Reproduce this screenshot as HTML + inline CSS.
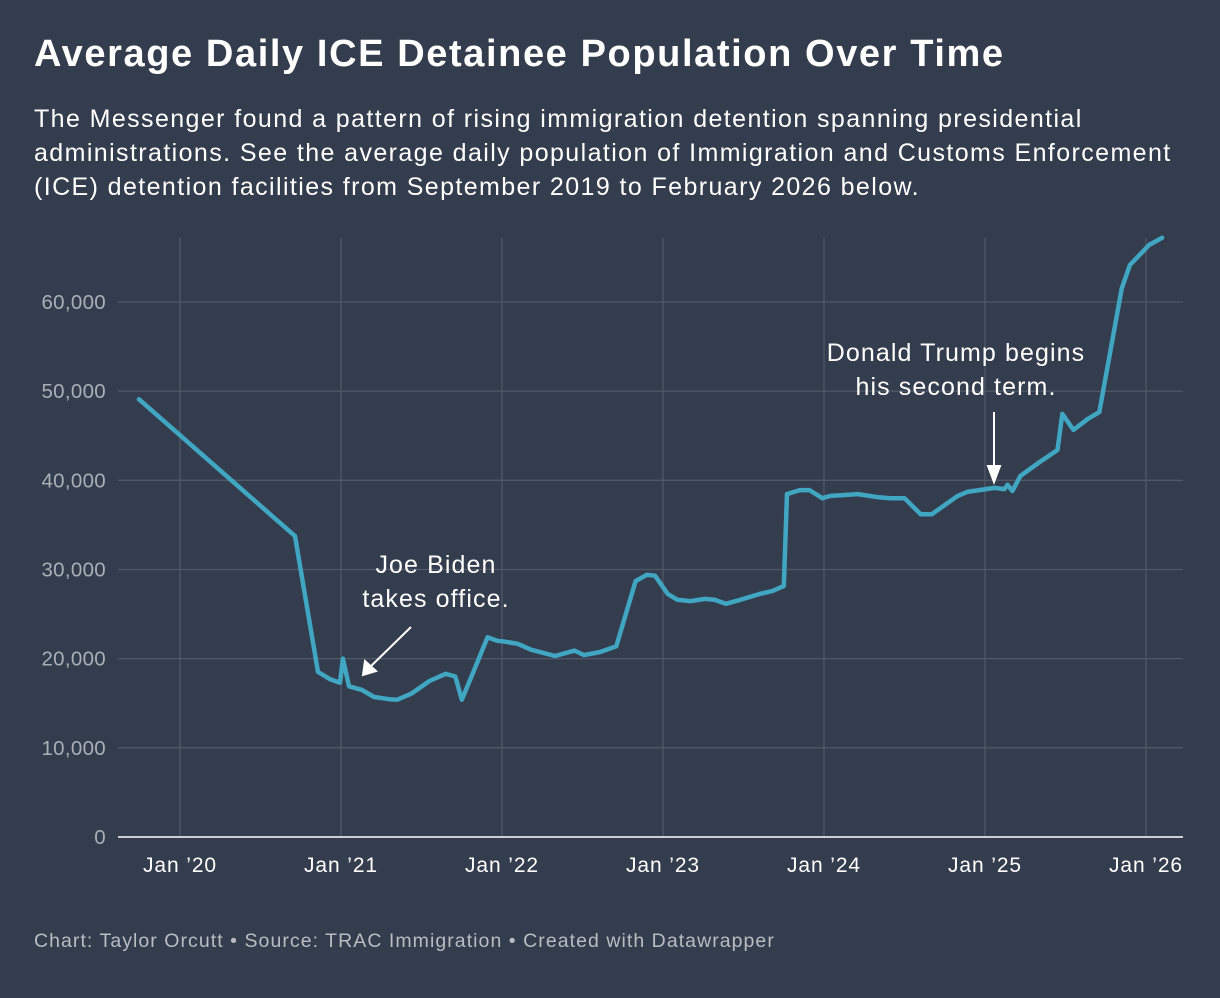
<!DOCTYPE html>
<html><head><meta charset="utf-8"><style>
body{margin:0;background:#333d4d;width:1220px;height:998px;overflow:hidden;font-family:"Liberation Sans",sans-serif;}
h1{position:absolute;left:34px;top:33px;margin:0;color:#fff;font-size:38px;font-weight:bold;letter-spacing:1.6px;white-space:nowrap}
p.sub{position:absolute;left:34px;top:102px;margin:0;color:#fff;font-size:25px;line-height:34px;white-space:nowrap;letter-spacing:1.4px}
.foot{position:absolute;left:34px;top:930px;color:#b8bdc4;font-size:19.5px;letter-spacing:1.05px;white-space:nowrap}
svg{position:absolute;left:0;top:0}
</style></head><body>
<h1>Average Daily ICE Detainee Population Over Time</h1>
<p class="sub">The Messenger found a pattern of rising immigration detention spanning presidential<br>administrations. See the average daily population of Immigration and Customs Enforcement<br>(ICE) detention facilities from September 2019 to February 2026 below.</p>
<svg id="chart" width="1220" height="998"></svg>
<div class="foot">Chart: Taylor Orcutt • Source: TRAC Immigration • Created with Datawrapper</div>
<script>
const yTicks=[0,10000,20000,30000,40000,50000,60000];
const yTickLabels=["0","10,000","20,000","30,000","40,000","50,000","60,000"];
const xTicks=[2020,2021,2022,2023,2024,2025,2026];
const xTickLabels=["Jan ’20","Jan ’21","Jan ’22","Jan ’23","Jan ’24","Jan ’25","Jan ’26"];
const dates=[2019.745,2020.714,2020.857,2020.932,2020.994,2021.012,2021.05,2021.13,2021.205,2021.30,2021.35,2021.44,2021.55,2021.65,2021.71,2021.75,2021.82,2021.91,2021.97,2022.02,2022.10,2022.18,2022.33,2022.45,2022.51,2022.61,2022.71,2022.83,2022.90,2022.95,2023.03,2023.09,2023.17,2023.26,2023.32,2023.39,2023.48,2023.60,2023.68,2023.75,2023.77,2023.85,2023.91,2023.99,2024.04,2024.13,2024.21,2024.34,2024.41,2024.50,2024.60,2024.67,2024.83,2024.89,2025.06,2025.12,2025.14,2025.17,2025.22,2025.34,2025.45,2025.48,2025.55,2025.64,2025.71,2025.85,2025.90,2026.02,2026.10];
const population=[49100,33750,18500,17700,17300,20000,16900,16500,15700,15450,15400,16100,17500,18300,18000,15400,18400,22400,22000,21900,21650,21000,20300,20900,20400,20750,21400,28700,29400,29300,27250,26600,26450,26700,26600,26150,26600,27250,27600,28150,38450,38900,38900,38000,38250,38350,38450,38100,38000,38000,36200,36200,38250,38700,39150,39000,39500,38800,40500,42050,43400,47450,45650,46900,47650,61550,64150,66400,67200];
const NS="http://www.w3.org/2000/svg";
const svg=document.getElementById('chart');
const X=t=>180+(t-2020)*161;
const Y=v=>837-v*0.008917;
function mk(tag,attrs){const e=document.createElementNS(NS,tag);for(const k in attrs)e.setAttribute(k,attrs[k]);svg.appendChild(e);return e;}
yTicks.forEach((v,i)=>{
  if(v>0){const g=mk('line',{x1:118,x2:1183,y1:Y(v),y2:Y(v),stroke:'#4f5968','stroke-width':1.3});
  
  }
  const t=mk('text',{x:106,y:Y(v)+7,'text-anchor':'end',fill:'#a9afb8','font-size':20.5,'letter-spacing':0.3,'font-family':'Liberation Sans, sans-serif'});
  t.textContent=yTickLabels[i];
  
  
});
xTicks.forEach((v,i)=>{
  const g=mk('line',{x1:X(v),x2:X(v),y1:238,y2:837,stroke:'#4f5968','stroke-width':1.3});
  
  
  const t=mk('text',{x:X(v),y:872,'text-anchor':'middle',fill:'#fff','font-size':21,'letter-spacing':0.9,'font-family':'Liberation Sans, sans-serif'});
  t.textContent=xTickLabels[i];
  
  
});
const base=mk('line',{x1:118,x2:1183,y1:837,y2:837,stroke:'#fff','stroke-width':1.5});


const d=dates.map((t,i)=>(i?'L':'M')+X(t).toFixed(1)+','+Y(population[i]).toFixed(1)).join(' ');
const path=mk('path',{d:d,fill:'none',stroke:'#40a6c2','stroke-width':4.5,'stroke-linejoin':'round','stroke-linecap':'round'});


function ann(lines,cx,y0,name){lines.forEach((s,i)=>{const t=mk('text',{x:cx,y:y0+i*34,'text-anchor':'middle',fill:'#fff','font-size':25,'letter-spacing':1.1,'font-family':'Liberation Sans, sans-serif'});t.textContent=s;

});}
ann(["Joe Biden","takes office."],436,573,'biden-annotation');
ann(["Donald Trump begins","his second term."],956,361,'trump-annotation');
const a1=mk('path',{d:'M411,627 L368,669 M363,675 L365,661 L376,671 Z',stroke:'#fff','stroke-width':2,fill:'#fff'});


const a2=mk('path',{d:'M994,412 L994,470 M994,482 L988,466 L1000,466 Z',stroke:'#fff','stroke-width':2,fill:'#fff'});


</script>
</body></html>
